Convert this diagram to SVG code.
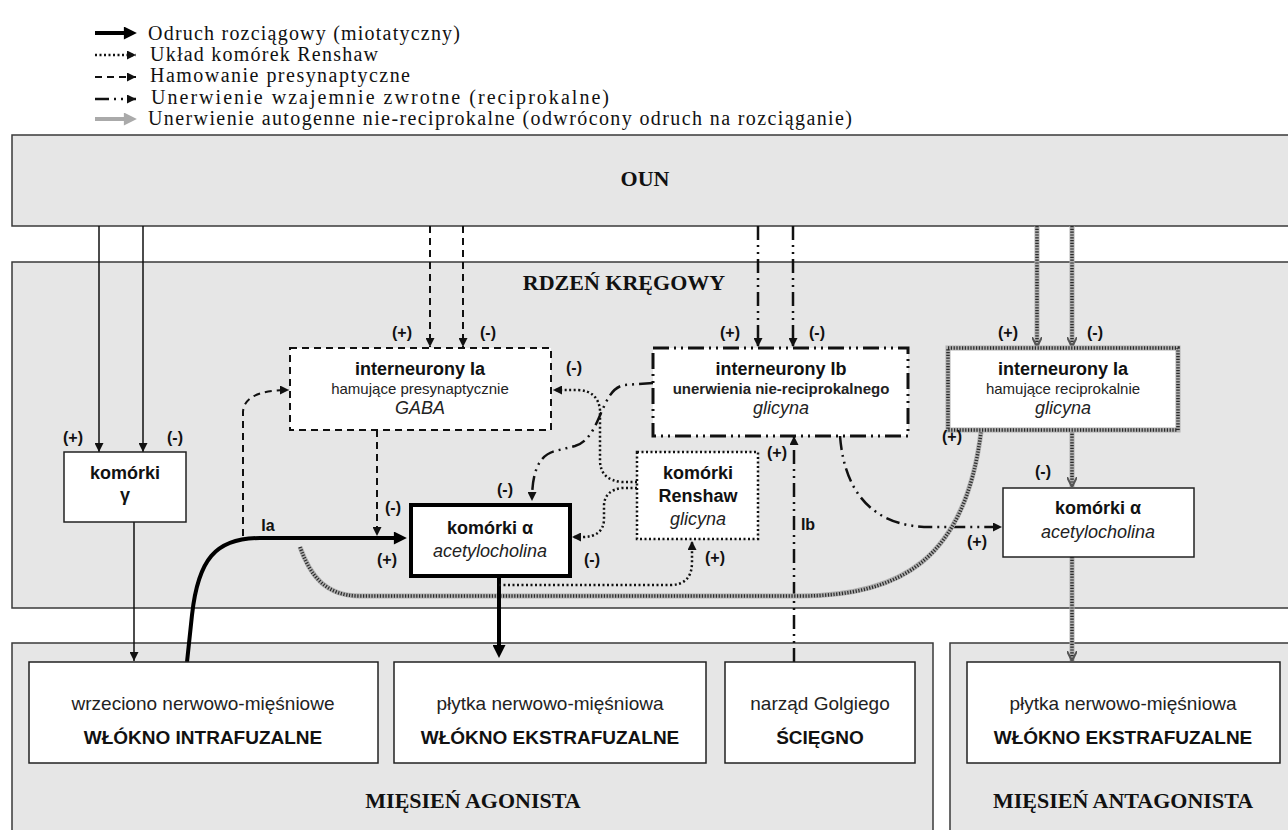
<svg xmlns="http://www.w3.org/2000/svg" width="1288" height="830" viewBox="0 0 1288 830">
<style>
.region{fill:#e6e6e6;stroke:#3a3a3a;stroke-width:1.5}
.box{fill:#ffffff;stroke:#222;stroke-width:1.5}
.serif{font-family:"Liberation Serif","Times New Roman",serif;fill:#111;font-size:20px}
.reg{font-family:"Liberation Serif","Times New Roman",serif;font-weight:bold;font-size:22px;fill:#111;text-anchor:middle}
.t{font-family:"Liberation Sans",Arial,sans-serif;font-weight:bold;font-size:18px;fill:#111;text-anchor:middle}
.s{font-family:"Liberation Sans",Arial,sans-serif;font-size:15px;fill:#222;text-anchor:middle}
.sb{font-family:"Liberation Sans",Arial,sans-serif;font-weight:bold;font-size:15px;fill:#222;text-anchor:middle}
.i{font-family:"Liberation Sans",Arial,sans-serif;font-style:italic;font-size:18px;fill:#222;text-anchor:middle}
.b1{font-family:"Liberation Sans",Arial,sans-serif;font-size:19px;fill:#222;text-anchor:middle}
.b2{font-family:"Liberation Sans",Arial,sans-serif;font-weight:bold;font-size:19px;fill:#111;text-anchor:middle}
.lab{font-family:"Liberation Sans",Arial,sans-serif;font-weight:bold;font-size:16px;fill:#111;text-anchor:middle}
.solid{fill:none;stroke:#111;stroke-width:1.5}
.thick{fill:none;stroke:#000;stroke-width:4}
.dash{fill:none;stroke:#111;stroke-width:2;stroke-dasharray:7 5}
.dot{fill:none;stroke:#111;stroke-width:2.5;stroke-dasharray:2 2.5}
.dd{fill:none;stroke:#111;stroke-width:2.5;stroke-dasharray:14 5 2 5 2 5}
.hb{fill:none;stroke:#b0b0b0;stroke-width:5}
.ht{fill:none;stroke:#2a2a2a;stroke-width:3.5;stroke-dasharray:1.2 1.6}
</style>
<defs>
<marker id="a" viewBox="0 0 10 10" refX="10" refY="5" markerWidth="10" markerHeight="9" markerUnits="userSpaceOnUse" orient="auto"><path d="M0,0 L10,5 L0,10 z" fill="#111"/></marker>
<marker id="ab" viewBox="0 0 10 10" refX="7" refY="5" markerWidth="15" markerHeight="13" markerUnits="userSpaceOnUse" orient="auto"><path d="M0,0 L10,5 L0,10 z" fill="#000"/></marker>
<marker id="ag" viewBox="0 0 10 10" refX="10" refY="5" markerWidth="10" markerHeight="10" markerUnits="userSpaceOnUse" orient="auto"><path d="M0,0 L10,5 L0,10" fill="none" stroke="#555" stroke-width="2"/></marker>
<marker id="agl" viewBox="0 0 10 10" refX="7" refY="5" markerWidth="14" markerHeight="13" markerUnits="userSpaceOnUse" orient="auto"><path d="M0,0 L10,5 L0,10 z" fill="#aaa"/></marker>
</defs>

<g id="legend">
<line x1="95" y1="33" x2="133" y2="33" class="thick" marker-end="url(#ab)"/>
<text x="148" y="40" class="serif" textLength="312" lengthAdjust="spacing">Odruch rozciągowy (miotatyczny)</text>
<line x1="95" y1="55" x2="136" y2="55" class="dot" stroke-width="2" marker-end="url(#a)"/>
<text x="150" y="61" class="serif" textLength="228" lengthAdjust="spacing">Układ komórek Renshaw</text>
<line x1="95" y1="77" x2="136" y2="77" class="dash" stroke-dasharray="5 4" marker-end="url(#a)"/>
<text x="150" y="82" class="serif" textLength="260" lengthAdjust="spacing">Hamowanie presynaptyczne</text>
<line x1="95" y1="99" x2="136" y2="99" class="dd" stroke-dasharray="9 4 2 4" marker-end="url(#a)"/>
<text x="151" y="104" class="serif" textLength="458" lengthAdjust="spacing">Unerwienie wzajemnie zwrotne (reciprokalne)</text>
<line x1="95" y1="119" x2="133" y2="119" fill="none" stroke="#aaa" stroke-width="4" marker-end="url(#agl)"/>
<text x="148" y="125" class="serif" textLength="704" lengthAdjust="spacing">Unerwienie autogenne nie-reciprokalne (odwrócony odruch na rozciąganie)</text>
</g>

<g id="oun">
<rect x="12" y="135" width="1290" height="91" class="region"/>
<text x="645" y="186" class="reg">OUN</text>
</g>
<g id="rdzen">
<rect x="12" y="262" width="1290" height="346" class="region"/>
<text x="624" y="290" class="reg">RDZEŃ KRĘGOWY</text>
</g>
<g id="miesien-agonista">
<rect x="12" y="643" width="921" height="200" class="region"/>
<text x="473" y="808" class="reg">MIĘSIEŃ AGONISTA</text>
</g>
<g id="miesien-antagonista">
<rect x="950" y="643" width="350" height="200" class="region"/>
<text x="1123" y="808" class="reg">MIĘSIEŃ ANTAGONISTA</text>
</g>

<g id="connectors">
<path d="M99,226 V452" class="solid" marker-end="url(#a)"/>
<path d="M143,226 V452" class="solid" marker-end="url(#a)"/>
<path d="M134,522 V661" class="solid" marker-end="url(#a)"/>
<path d="M430,226 V347" class="dash" marker-end="url(#a)"/>
<path d="M463,226 V347" class="dash" marker-end="url(#a)"/>
<path d="M377,430 V536" class="dash" marker-end="url(#a)"/>
<path d="M243,536 L243,412 Q244,390 289,390" class="dash" marker-end="url(#a)"/>
<path d="M758,226 V347" class="dd" marker-end="url(#a)"/>
<path d="M793,226 V347" class="dd" marker-end="url(#a)"/>
<path d="M794,662 V436" class="dd" stroke-width="2" marker-end="url(#a)"/>
<path d="M653,383 L625,385 C600,388 602,438 575,446 L555,451 C537,456 532,475 532,501" class="dd" marker-end="url(#a)"/>
<path d="M840,436 C845,500 880,527 930,527 L1002,527" class="dd" marker-end="url(#a)"/>
<path d="M1037,226 V347" class="hb"/><path d="M1037,226 V347" class="ht" marker-end="url(#ag)"/>
<path d="M1072,226 V347" class="hb"/><path d="M1072,226 V347" class="ht" marker-end="url(#ag)"/>
<path d="M1072,431 V487" class="hb"/><path d="M1072,431 V487" class="ht" marker-end="url(#ag)"/>
<path d="M1072,557 V661" class="hb"/><path d="M1072,557 V661" class="ht" marker-end="url(#ag)"/>
<path d="M300,547 C310,575 325,596 360,596 L800,596 C900,596 965,560 981,432" class="hb"/>
<path d="M300,547 C310,575 325,596 360,596 L800,596 C900,596 965,560 981,432" class="ht"/>
<path d="M187,662 L192,615 C198,560 215,538 260,538 L403,538" class="thick" marker-end="url(#ab)"/>
<path d="M499,577 V654" class="thick" stroke-width="3" marker-end="url(#ab)"/>
<path d="M499,585 L670,585 Q692,585 692,562 L692,541" class="dot" marker-end="url(#a)"/>
<path d="M637,488 L622,488 Q605,490 604,505 L604,520 Q603,537 582,537 L572,537" class="dot" marker-end="url(#a)"/>
<path d="M637,482 L622,482 Q600,480 600,460 L600,410 Q598,391 578,390 L553,390" class="dot" marker-end="url(#a)"/>
</g>

<g id="interneurony-ia-pre">
<rect x="290" y="348" width="261" height="82" fill="#fff" stroke="#111" stroke-width="2" stroke-dasharray="7 5"/>
<text x="420" y="375" class="t">interneurony Ia</text>
<text x="420" y="394" class="s">hamujące presynaptycznie</text>
<text x="420" y="414" class="i">GABA</text>
</g>
<g id="interneurony-ib">
<rect x="653" y="348" width="255" height="88" fill="#fff" stroke="#111" stroke-width="3" stroke-dasharray="16 5 2 5 2 5"/>
<text x="781" y="375" class="t">interneurony Ib</text>
<text x="781" y="394" class="sb">unerwienia nie-reciprokalnego</text>
<text x="781" y="414" class="i">glicyna</text>
</g>
<g id="interneurony-ia-rec">
<rect x="948" y="348" width="230" height="82" fill="#fff"/>
<rect x="948" y="348" width="230" height="82" class="hb" stroke-width="4"/>
<rect x="948" y="348" width="230" height="82" class="ht" stroke-width="3"/>
<text x="1063" y="375" class="t">interneurony Ia</text>
<text x="1063" y="394" class="s">hamujące reciprokalnie</text>
<text x="1063" y="414" class="i">glicyna</text>
</g>
<g id="komorki-gamma">
<rect x="64" y="452" width="122" height="70" class="box"/>
<text x="125" y="479" class="t">komórki</text>
<text x="125" y="501" class="t" font-weight="normal">γ</text>
</g>
<g id="komorki-alfa">
<rect x="411" y="505" width="159" height="71" fill="#fff" stroke="#000" stroke-width="4"/>
<text x="490" y="534" class="t">komórki α</text>
<text x="490" y="557" class="i">acetylocholina</text>
</g>
<g id="komorki-renshaw">
<rect x="637" y="452" width="121" height="87" fill="#fff" stroke="#111" stroke-width="2.5" stroke-dasharray="2 2.5"/>
<text x="698" y="479" class="t">komórki</text>
<text x="698" y="502" class="t">Renshaw</text>
<text x="698" y="525" class="i">glicyna</text>
</g>
<g id="komorki-alfa-antagonista">
<rect x="1003" y="488" width="191" height="69" class="box"/>
<text x="1098" y="514" class="t">komórki α</text>
<text x="1098" y="538" class="i">acetylocholina</text>
</g>
<g id="wrzeciono">
<rect x="29" y="662" width="349" height="101" class="box"/>
<text x="203" y="710" class="b1">wrzeciono nerwowo-mięśniowe</text>
<text x="203" y="744" class="b2">WŁÓKNO INTRAFUZALNE</text>
</g>
<g id="plytka-agonista">
<rect x="394" y="662" width="312" height="101" class="box"/>
<text x="550" y="710" class="b1">płytka nerwowo-mięśniowa</text>
<text x="550" y="744" class="b2">WŁÓKNO EKSTRAFUZALNE</text>
</g>
<g id="golgi">
<rect x="725" y="662" width="190" height="101" class="box"/>
<text x="820" y="710" class="b1">narząd Golgiego</text>
<text x="820" y="744" class="b2">ŚCIĘGNO</text>
</g>
<g id="plytka-antagonista">
<rect x="967" y="662" width="313" height="101" class="box"/>
<text x="1123" y="710" class="b1">płytka nerwowo-mięśniowa</text>
<text x="1123" y="744" class="b2">WŁÓKNO EKSTRAFUZALNE</text>
</g>

<g id="labels">
<text x="73" y="443" class="lab">(+)</text>
<text x="175" y="443" class="lab">(-)</text>
<text x="402" y="338" class="lab">(+)</text>
<text x="488" y="338" class="lab">(-)</text>
<text x="574" y="373" class="lab">(-)</text>
<text x="730" y="338" class="lab">(+)</text>
<text x="817" y="338" class="lab">(-)</text>
<text x="1008" y="338" class="lab">(+)</text>
<text x="1095" y="338" class="lab">(-)</text>
<text x="393" y="513" class="lab">(-)</text>
<text x="387" y="565" class="lab">(+)</text>
<text x="505" y="495" class="lab">(-)</text>
<text x="592" y="565" class="lab">(-)</text>
<text x="715" y="563" class="lab">(+)</text>
<text x="777" y="458" class="lab">(+)</text>
<text x="952" y="442" class="lab">(+)</text>
<text x="1043" y="477" class="lab">(-)</text>
<text x="977" y="547" class="lab">(+)</text>
<text x="268" y="531" class="lab">Ia</text>
<text x="808" y="530" class="lab">Ib</text>
</g>
</svg>
